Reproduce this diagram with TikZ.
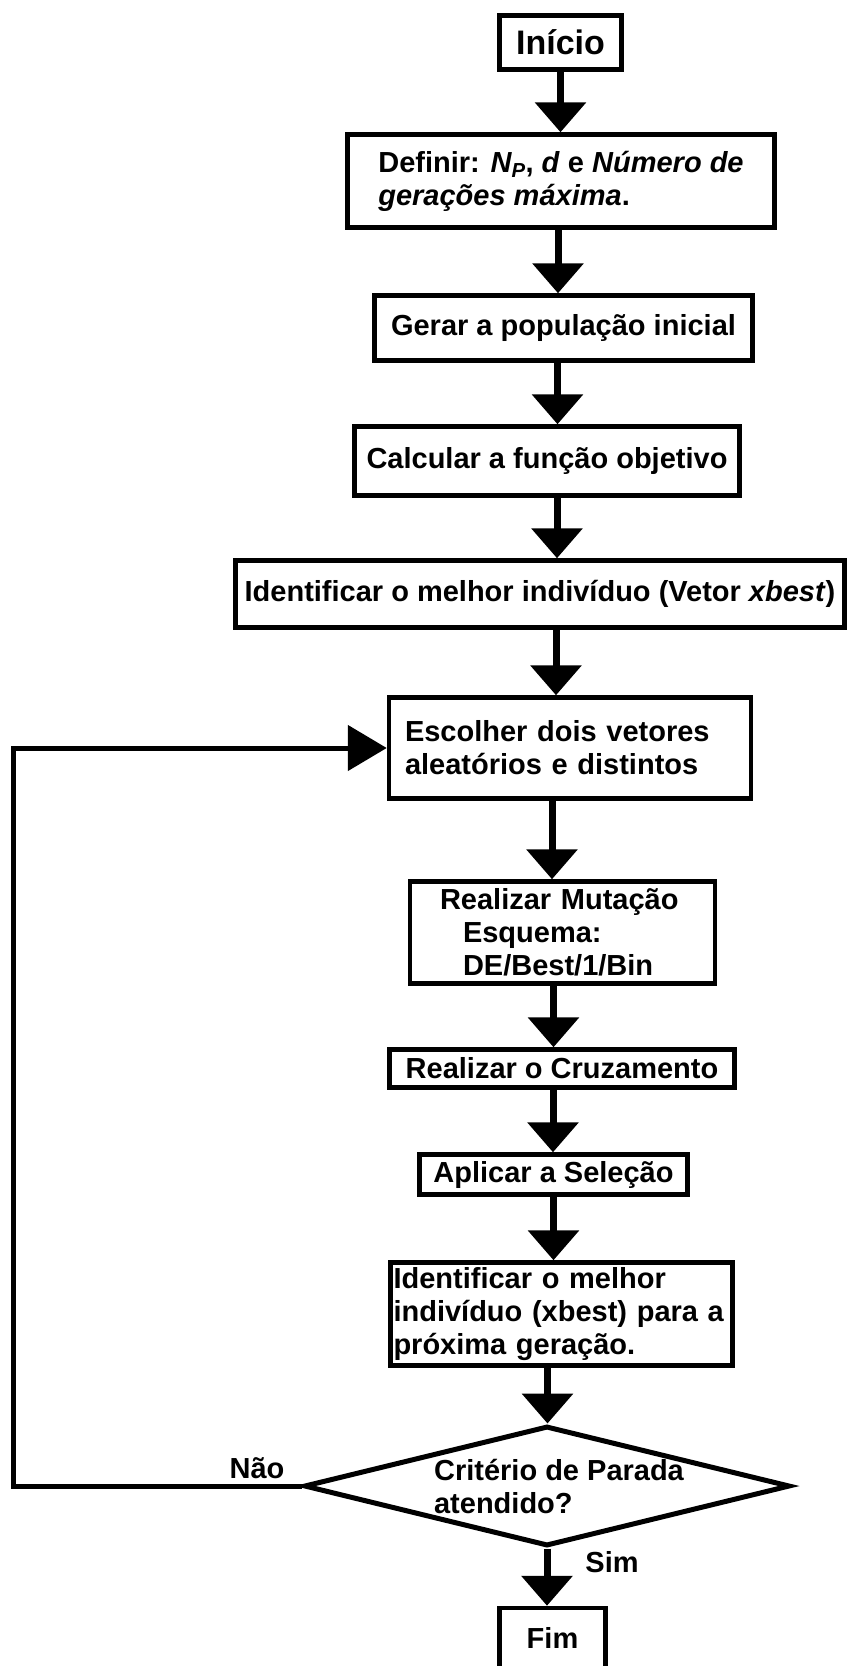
\documentclass[tikz,border=0pt]{standalone}
\usepackage{fontspec}
\setmainfont{Liberation Sans}
\usetikzlibrary{arrows.meta, shapes.geometric}
\tikzset{
  every picture/.style={font=\bfseries\fontsize{29}{33}\selectfont},
  box/.style={draw=black, line width=4.5pt, fill=white, align=center, inner sep=4pt},
  decision/.style={draw=black, line width=5pt, diamond, aspect=4, inner ysep=0pt, inner xsep=-12pt, align=left,
    minimum width=486, minimum height=120},
  arrow/.style={-{Triangle[length=30pt, width=50pt]}, line width=7pt},
  backarrow/.style={-{Triangle[length=39pt, width=45pt]}, line width=5pt},
  answer/.style={inner sep=0pt},
}

\begin{document}
\begin{tikzpicture}[x=1pt, y=-1pt]
  \useasboundingbox (0,0) rectangle (853,1666);
  % main column, positions in pixels of the 853 x 1666 sheet
  \node[box, minimum width=122, minimum height=54, font=\bfseries\fontsize{34}{38}\selectfont] (inicio) at (560.5,42.5) {Início};
  \node[box, align=left, minimum width=427, minimum height=93] (definir) at (561,181)
    {Definir: \textit{N\textsubscript{P}}, \textit{d} e \textit{Número de}\\\textit{gerações máxima}.};
  \node[box, minimum width=378, minimum height=65] (gerar) at (563.5,328) {Gerar a população inicial};
  \node[box, minimum width=385, minimum height=69] (calcular) at (547,461) {Calcular a função objetivo};
  \node[box, minimum width=609, minimum height=67] (melhor) at (540,594) {Identificar o melhor indivíduo (Vetor \textit{xbest})};
  \node[box, align=left, text width=330, inner xsep=16, minimum height=101] (escolher) at (570,748)
    {Escolher dois vetores\\aleatórios e distintos};
  \node[box, align=left, text width=245, inner xsep=30, minimum height=102] (mutacao) at (562.5,932.5)
    {Realizar Mutação\\\hspace*{23pt}Esquema:\\\hspace*{23pt}DE/Best/1/Bin};
  \node[box, minimum width=345, minimum height=38] (cruzamento) at (562,1068.5) {Realizar o Cruzamento};
  \node[box, minimum width=268, minimum height=40] (selecao) at (553.5,1174.5) {Aplicar a Seleção};
  \node[box, align=left, text width=336, inner xsep=3, minimum height=103] (proxima) at (561.5,1314)
    {Identificar o melhor\\indivíduo (xbest) para a\\próxima geração.};
  \node[decision] (criterio) at (547,1486) {\hspace*{24pt}Critério de Parada\\\hspace*{24pt}atendido?};
  \node[box, minimum width=106, minimum height=60] (fim) at (552.5,1638) {Fim};
  % answers
  \node[answer] (nao) at (257,1468) {Não};
  \node[answer] (sim) at (612,1562) {Sim};
  % flow, shaft offsets follow the drawing
  \foreach \a/\b/\s in {inicio/definir/0, definir/gerar/-3, gerar/calcular/-6, calcular/melhor/10,
      melhor/escolher/16, escolher/mutacao/-18, mutacao/cruzamento/-9, cruzamento/selecao/-9,
      selecao/proxima/0, proxima/criterio/-14, criterio/fim/0}
    \draw[arrow] ([xshift=\s]\a.south) -- ([xshift=\s]\a.south |- \b.north);
  % back to the choice of vectors
  \coordinate (corner) at (13,1486);
  \draw[backarrow] (criterio.west) -- (criterio.west -| corner) |- (escolher.west);
\end{tikzpicture}
\end{document}
